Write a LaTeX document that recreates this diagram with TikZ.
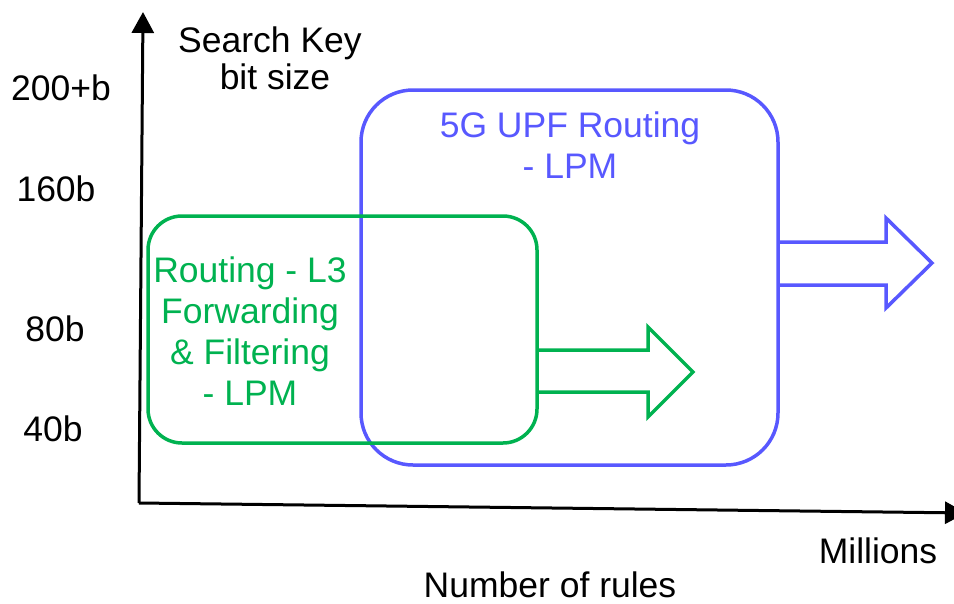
\documentclass[tikz,border=0pt]{standalone}
\usepackage{fontspec}
\setmainfont{Liberation Sans}
\usetikzlibrary{arrows.meta}
\definecolor{rulegreen}{RGB}{0,178,80}
\definecolor{ruleblue}{RGB}{88,88,255}
\begin{document}
\begin{tikzpicture}[x=1pt,y=-1pt,
  lbl/.style={font=\fontsize{35.5}{41}\selectfont, inner sep=0pt, align=center},
  axisline/.style={line width=3pt, -{Triangle[length=21pt,width=22pt]}},
  regionbox/.style={draw=#1, line width=3.5pt, inner sep=0pt},
  fatarrow/.style={draw=#1, line width=3.5pt, line join=miter}
]
\useasboundingbox (0,0) rectangle (954,603);

% axes
\coordinate (origin) at (139,503);
\coordinate (ytop) at (143,12);
\coordinate (xend) at (966,513);
\draw[axisline] (origin) -- (ytop);
\draw[axisline] (origin) -- (xend);

% axis labels
\node[lbl, anchor=base] (ylabA) at (270,52) {Search Key};
\node[lbl, anchor=base] (ylabB) at (275,89) {bit size};
\node[lbl, anchor=base] (t200) at (61,100) {200+b};
\node[lbl, anchor=base] (t160) at (56,201) {160b};
\node[lbl, anchor=base] (t80) at (55,341) {80b};
\node[lbl, anchor=base] (t40) at (53,441) {40b};
\node[lbl, anchor=base] (xlabA) at (878,563) {Millions};
\node[lbl, anchor=base] (xlabB) at (550,597) {Number of rules};

% 5G UPF region
\node[regionbox=ruleblue, rounded corners=52pt, minimum width=417pt, minimum height=375pt] (upf) at (569.5,277.5) {};
\node[lbl, text=ruleblue] (upftext) at (570,145) {5G UPF Routing\\- LPM};
\draw[fatarrow=ruleblue] (778,242) -- (886,242) -- (886,218) -- (932,263) -- (886,308) -- (886,285) -- (778,285);

% L3 region
\node[regionbox=rulegreen, rounded corners=34pt, minimum width=389pt, minimum height=227pt] (l3) at (342.5,329.5) {};
\node[lbl, text=rulegreen] (l3text) at (250,331.5) {Routing - L3\\Forwarding\\\& Filtering\\- LPM};
\draw[fatarrow=rulegreen] (537,350) -- (648,350) -- (648,327) -- (693,372) -- (648,417) -- (648,392) -- (537,392);
\end{tikzpicture}
\end{document}
